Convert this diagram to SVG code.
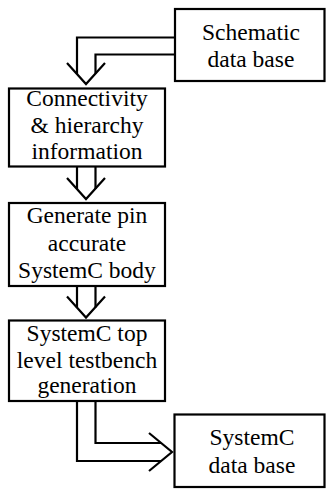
<svg xmlns="http://www.w3.org/2000/svg" width="326" height="489" viewBox="0 0 326 489">
<style>
.box{fill:#fff;stroke:#000;stroke-width:2.2}
.t{font-family:"Liberation Serif","Times New Roman",serif;font-size:23.5px;fill:#000;text-anchor:middle}
.c{fill:none;stroke:#000;stroke-width:2.2;stroke-linejoin:miter}
</style>
<rect width="326" height="489" fill="#fff"/>
<g id="connectors">
<path class="c" d="M175 37.5 H77 V74"/>
<path class="c" d="M175 54.5 H95.5 V73.5"/>
<path class="c" d="M67 63 L86 84 L105 63"/>
<path class="c" d="M77 167 V189 M95.5 167 V189"/>
<path class="c" d="M67 178 L86 199 L105 178"/>
<path class="c" d="M77 286 V307.5 M95.5 286 V307.5"/>
<path class="c" d="M67 296.5 L86 317.5 L105 296.5"/>
<path class="c" d="M77 401 V461 H161"/>
<path class="c" d="M95.5 401 V443 H161"/>
<path class="c" d="M149 433 L172 452 L149 471"/>
</g>
<g id="schematic">
<rect class="box" x="175" y="9" width="149.5" height="72"/>
<text class="t" x="251" y="40">Schematic</text>
<text class="t" x="251" y="67">data base</text>
</g>
<g id="connectivity">
<rect class="box" x="9" y="88.5" width="156" height="78"/>
<text class="t" x="87" y="106">Connectivity</text>
<text class="t" x="87" y="132.5">&amp; hierarchy</text>
<text class="t" x="87" y="159">information</text>
</g>
<g id="generate">
<rect class="box" x="9" y="203" width="156" height="83"/>
<text class="t" x="87" y="223">Generate pin</text>
<text class="t" x="87" y="250.5">accurate</text>
<text class="t" x="87" y="278">SystemC body</text>
</g>
<g id="testbench">
<rect class="box" x="9" y="320.5" width="156" height="80.5"/>
<text class="t" x="87" y="341">SystemC top</text>
<text class="t" x="87" y="367.5">level testbench</text>
<text class="t" x="87" y="393">generation</text>
</g>
<g id="systemc">
<rect class="box" x="174.5" y="414.5" width="150" height="72.5"/>
<text class="t" x="252" y="445">SystemC</text>
<text class="t" x="252" y="472.5">data base</text>
</g>
</svg>
